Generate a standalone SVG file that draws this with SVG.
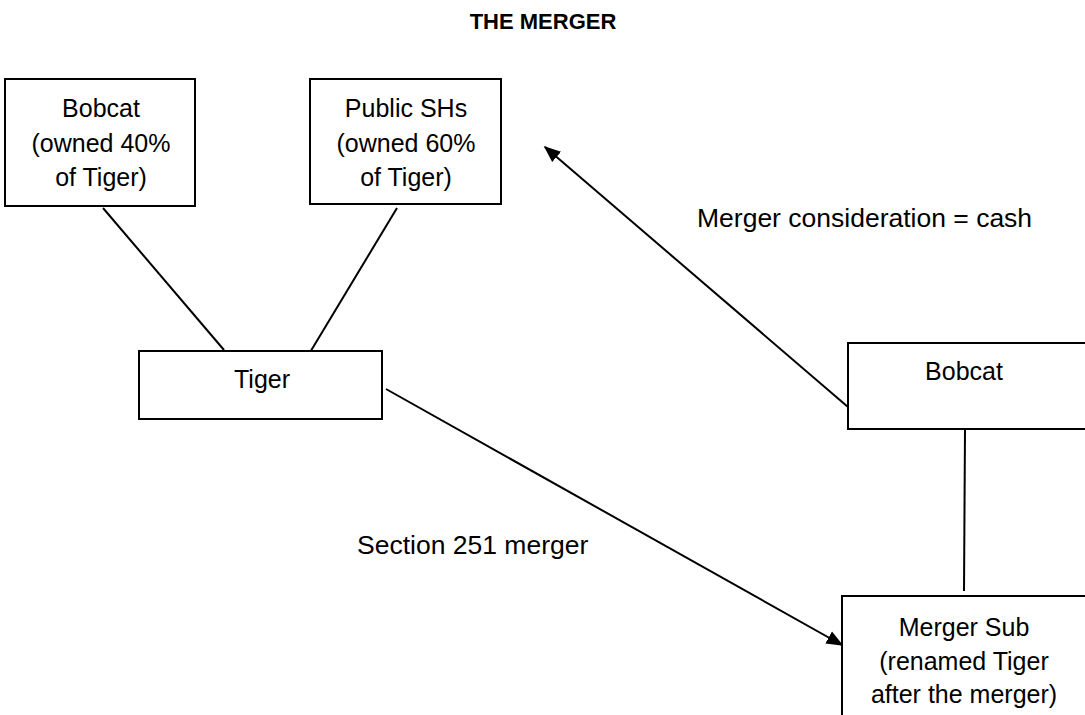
<svg xmlns="http://www.w3.org/2000/svg" width="1085" height="715" viewBox="0 0 1085 715">
<defs>
<style>
.box{fill:#fff;stroke:#000;stroke-width:2}
.ln{stroke:#000;stroke-width:2;fill:none}
text{font-family:"Liberation Sans",Arial,sans-serif;font-size:25px;fill:#000;text-anchor:middle}
.title{font-weight:bold;font-size:22px}
.lbl{text-anchor:start;font-size:26.5px}
</style>
<marker id="arrB" viewBox="0 0 10 10" refX="9" refY="5" markerWidth="17" markerHeight="17" markerUnits="userSpaceOnUse" orient="auto"><path d="M0,1 L10,5 L0,9 z" fill="#000"/></marker>
</defs>
<rect width="1085" height="715" fill="#fff"/>
<text class="title" x="543" y="29">THE MERGER</text>
<g id="connectors">
<line class="ln" x1="103" y1="208" x2="224" y2="350"/>
<line class="ln" x1="397" y1="208" x2="309" y2="354"/>
<line class="ln" x1="848" y1="407" x2="545" y2="147" marker-end="url(#arrB)"/>
<line class="ln" x1="386" y1="389" x2="842" y2="645" marker-end="url(#arrB)"/>
<line class="ln" x1="965" y1="429" x2="964" y2="591"/>
<text class="lbl" x="697" y="227">Merger consideration = cash</text>
<text class="lbl" x="357" y="554">Section 251 merger</text>
</g>
<g id="bobcat-top">
<rect class="box" x="5" y="79" width="190" height="127"/>
<text x="101" y="117">Bobcat</text>
<text x="101" y="152">(owned 40%</text>
<text x="101" y="186">of Tiger)</text>
</g>
<g id="public-shs">
<rect class="box" x="310" y="79" width="191" height="125"/>
<text x="406" y="117">Public SHs</text>
<text x="406" y="152">(owned 60%</text>
<text x="406" y="186">of Tiger)</text>
</g>
<g id="tiger">
<rect class="box" x="139" y="351" width="243" height="68"/>
<text x="262" y="388">Tiger</text>
</g>
<g id="bobcat-right">
<rect class="box" x="848" y="343" width="250" height="86"/>
<text x="964" y="380">Bobcat</text>
</g>
<g id="merger-sub">
<rect class="box" x="842" y="596" width="260" height="140"/>
<text x="964" y="636">Merger Sub</text>
<text x="964" y="670">(renamed Tiger</text>
<text x="964" y="703">after the merger)</text>
</g>
</svg>
